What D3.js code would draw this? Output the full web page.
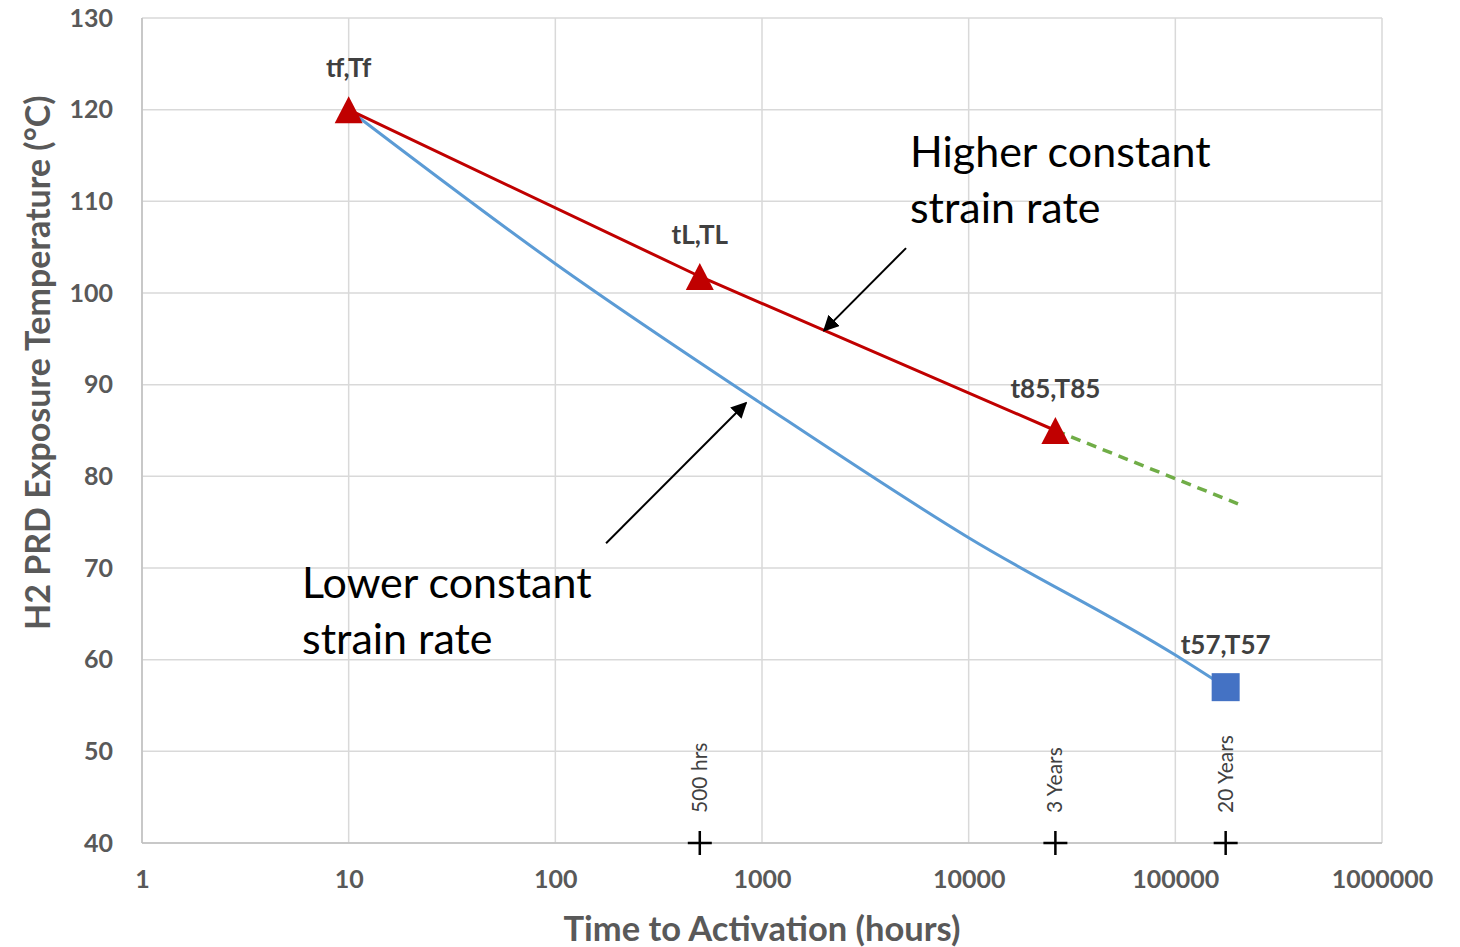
<!DOCTYPE html>
<html>
<head>
<meta charset="utf-8">
<script src="https://cdn.jsdelivr.net/npm/d3@7"></script>
<style>
  body { margin: 0; background: #fff; }
  text { font-family: Lato, "Open Sans", sans-serif; }
</style>
</head>
<body>
<div id="wrapper"></div>
<script>
// data
var xTicks = [1, 10, 100, 1000, 10000, 100000, 1000000];
var yTicks = [40, 50, 60, 70, 80, 90, 100, 110, 120, 130];

var redHours = [10, 500, 26280];
var redTemps = [120, 101.8, 85];
var redLabels = ["tf,Tf", "tL,TL", "t85,T85"];

var blueHours = [10, 100, 1000, 10000, 100000, 175200];
var blueTemps = [120, 103.2, 87.9, 73.3, 60.5, 57];
var blueLabel = "t57,T57";

var greenHours = [26280, 201000];
var greenTemps = [85, 77];

var markHours = [500, 26280, 175200];
var markTemps = [40, 40, 40];
var markLabels = ["500 hrs", "3 Years", "20 Years"];

// annotations: [tailHours, tailTemp, headHours, headTemp]
var arrowHigher = [4977, 104.9, 1995, 95.9];
var arrowLower = [176, 72.7, 837, 88];
var textHigher = ["Higher constant", "strain rate"];
var textLower = ["Lower constant", "strain rate"];

var dimensions = {
  width: 1460,
  height: 947,
  margin: { top: 18, right: 78, bottom: 104, left: 142 }
};
dimensions.boundedWidth = dimensions.width - dimensions.margin.left - dimensions.margin.right;
dimensions.boundedHeight = dimensions.height - dimensions.margin.top - dimensions.margin.bottom;

var wrapper = d3.select('#wrapper')
  .append('svg')
  .attr('width', dimensions.width)
  .attr('height', dimensions.height);

var defs = wrapper.append('defs');
defs.append('marker')
  .attr('id', 'arrowhead')
  .attr('viewBox', '0 0 10 10')
  .attr('refX', 9)
  .attr('refY', 5)
  .attr('markerWidth', 8)
  .attr('markerHeight', 8)
  .attr('markerUnits', 'strokeWidth')
  .attr('orient', 'auto')
  .append('path')
  .attr('d', 'M0,0 L10,5 L0,10 Z')
  .attr('fill', '#000');

var bounds = wrapper.append('g')
  .attr('transform', 'translate(' + dimensions.margin.left + ',' + dimensions.margin.top + ')');

var xScale = d3.scaleLog()
  .domain([1, 1000000])
  .range([0, dimensions.boundedWidth]);

var yScale = d3.scaleLinear()
  .domain([40, 130])
  .range([dimensions.boundedHeight, 0]);

// gridlines
bounds.append('g')
  .selectAll('line')
  .data(yTicks)
  .join('line')
  .attr('x1', 0)
  .attr('x2', dimensions.boundedWidth)
  .attr('y1', function (d) { return yScale(d); })
  .attr('y2', function (d) { return yScale(d); })
  .attr('stroke', '#d9d9d9')
  .attr('stroke-width', 1.5);

bounds.append('g')
  .selectAll('line')
  .data(xTicks)
  .join('line')
  .attr('x1', function (d) { return xScale(d); })
  .attr('x2', function (d) { return xScale(d); })
  .attr('y1', 0)
  .attr('y2', dimensions.boundedHeight)
  .attr('stroke', '#d9d9d9')
  .attr('stroke-width', 1.5);

// axis lines
bounds.append('line')
  .attr('x1', 0).attr('x2', 0)
  .attr('y1', 0).attr('y2', dimensions.boundedHeight)
  .attr('stroke', '#bfbfbf').attr('stroke-width', 1.5);
bounds.append('line')
  .attr('x1', 0).attr('x2', dimensions.boundedWidth)
  .attr('y1', dimensions.boundedHeight).attr('y2', dimensions.boundedHeight)
  .attr('stroke', '#bfbfbf').attr('stroke-width', 1.5);

// tick labels
var yAxisGenerator = d3.axisLeft(yScale).tickValues(yTicks).tickSize(0).tickPadding(29);
var yAxis = bounds.append('g').call(yAxisGenerator);
yAxis.select('.domain').remove();
yAxis.selectAll('text')
  .attr('fill', '#595959')
  .style('font-size', '25px')
  .style('font-weight', 'bold')
  .style('font-family', 'Lato, sans-serif');

var xAxisGenerator = d3.axisBottom(xScale).tickValues(xTicks).tickSize(0).tickPadding(27)
  .tickFormat(d3.format('d'));
var xAxis = bounds.append('g')
  .attr('transform', 'translate(0,' + dimensions.boundedHeight + ')')
  .call(xAxisGenerator);
xAxis.select('.domain').remove();
xAxis.selectAll('text')
  .attr('fill', '#595959')
  .style('font-size', '25px')
  .style('font-weight', 'bold')
  .style('font-family', 'Lato, sans-serif');

// axis titles
wrapper.append('text')
  .attr('x', dimensions.margin.left + xScale(1000))
  .attr('y', 941)
  .attr('text-anchor', 'middle')
  .attr('fill', '#595959')
  .style('font-size', '34.5px')
  .style('font-weight', 'bold')
  .text('Time to Activation (hours)');

wrapper.append('text')
  .attr('transform', 'translate(50,' + (dimensions.margin.top + yScale(92.4)) + ') rotate(-90)')
  .attr('text-anchor', 'middle')
  .attr('fill', '#595959')
  .style('font-size', '34px')
  .style('font-weight', 'bold')
  .text('H2 PRD Exposure Temperature (°C)');

// series
var line = d3.line()
  .x(function (d) { return xScale(d[0]); })
  .y(function (d) { return yScale(d[1]); });

bounds.append('path')
  .datum(d3.zip(blueHours, blueTemps))
  .attr('d', line.curve(d3.curveMonotoneX))
  .attr('fill', 'none')
  .attr('stroke', '#5b9bd5')
  .attr('stroke-width', 3);
line.curve(d3.curveLinear);

bounds.append('path')
  .datum(d3.zip(greenHours, greenTemps))
  .attr('d', line)
  .attr('fill', 'none')
  .attr('stroke', '#70ad47')
  .attr('stroke-width', 3.5)
  .attr('stroke-dasharray', '10 7');

bounds.append('path')
  .datum(d3.zip(redHours, redTemps))
  .attr('d', line)
  .attr('fill', 'none')
  .attr('stroke', '#c00000')
  .attr('stroke-width', 3);

// red triangle markers
bounds.append('g')
  .selectAll('path')
  .data(d3.zip(redHours, redTemps))
  .join('path')
  .attr('transform', function (d) { return 'translate(' + xScale(d[0]) + ',' + yScale(d[1]) + ')'; })
  .attr('d', 'M0,-13.5 L14,13.5 L-14,13.5 Z')
  .attr('fill', '#c00000');

// blue square marker
var last = blueHours.length - 1;
bounds.append('rect')
  .attr('x', xScale(blueHours[last]) - 14)
  .attr('y', yScale(blueTemps[last]) - 14)
  .attr('width', 28)
  .attr('height', 28)
  .attr('fill', '#4472c4');

// point labels
bounds.append('g')
  .selectAll('text')
  .data(d3.zip(redHours, redTemps, redLabels).concat([[blueHours[last], blueTemps[last], blueLabel]]))
  .join('text')
  .attr('x', function (d) { return xScale(d[0]); })
  .attr('y', function (d) { return yScale(d[1]) - 33; })
  .attr('text-anchor', 'middle')
  .attr('fill', '#404040')
  .style('font-size', '26px')
  .style('font-weight', 'bold')
  .text(function (d) { return d[2]; });

// milestone crosses
var crosses = bounds.append('g')
  .selectAll('g')
  .data(d3.zip(markHours, markTemps, markLabels))
  .join('g')
  .attr('transform', function (d) { return 'translate(' + xScale(d[0]) + ',' + yScale(d[1]) + ')'; });
crosses.append('path')
  .attr('d', 'M-12,0 H12 M0,-12 V12')
  .attr('stroke', '#000')
  .attr('stroke-width', 2.5);
crosses.append('text')
  .attr('transform', 'translate(7,-30) rotate(-90)')
  .attr('text-anchor', 'start')
  .attr('fill', '#404040')
  .style('font-size', '21px')
  .text(function (d) { return d[2]; });

// annotation arrows
[arrowHigher, arrowLower].forEach(function (a) {
  bounds.append('line')
    .attr('x1', xScale(a[0])).attr('y1', yScale(a[1]))
    .attr('x2', xScale(a[2])).attr('y2', yScale(a[3]))
    .attr('stroke', '#000')
    .attr('stroke-width', 2)
    .attr('marker-end', 'url(#arrowhead)');
});

// annotation text
function annotation(lines, hours, temp) {
  bounds.append('text')
    .attr('y', yScale(temp))
    .attr('fill', '#000')
    .style('font-size', '43px')
    .selectAll('tspan')
    .data(lines)
    .join('tspan')
    .attr('x', xScale(hours))
    .attr('dy', function (d, i) { return i ? 56 : 0; })
    .text(function (d) { return d; });
}
annotation(textHigher, 5200, 113.75);
annotation(textLower, 5.95, 66.73);
</script>
</body>
</html>
